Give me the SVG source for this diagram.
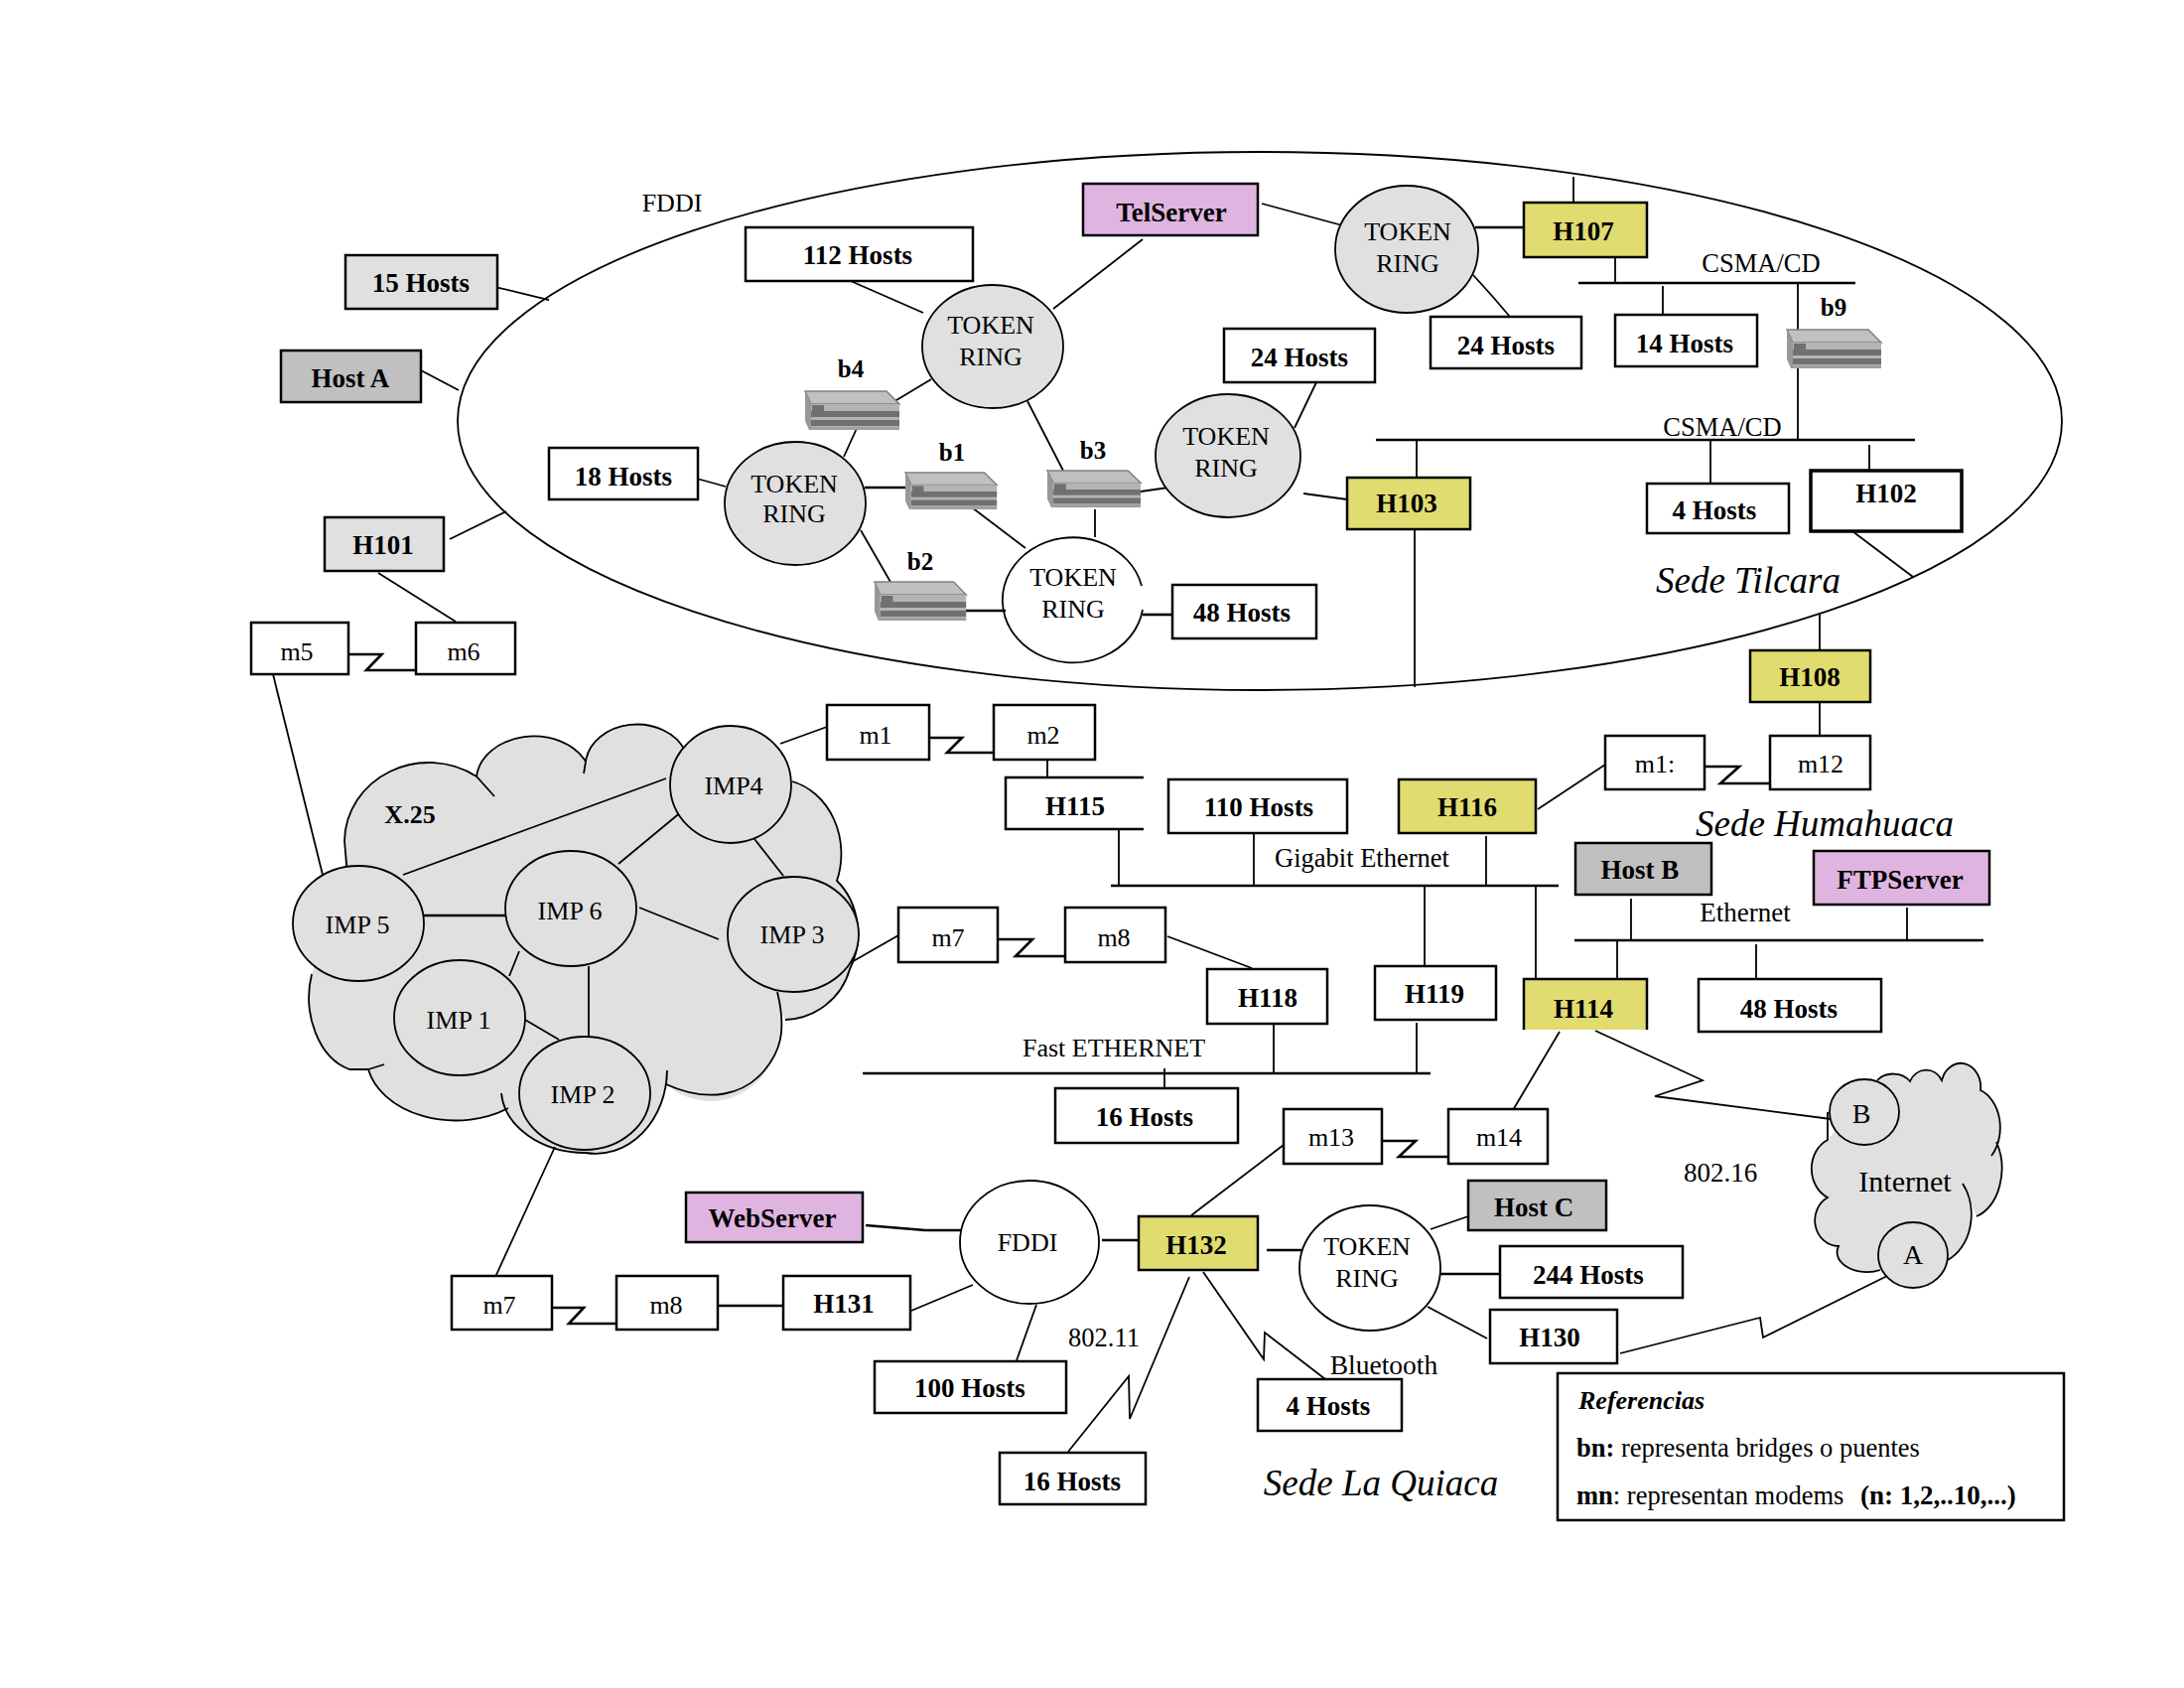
<svg xmlns="http://www.w3.org/2000/svg" width="2200" height="1700" viewBox="0 0 2200 1700">
<style>
text{font-family:"Liberation Serif","Times New Roman",serif;font-size:26px;fill:#000;text-anchor:middle}
.b{font-weight:bold;font-size:27px}
.s{font-size:25px}
.i{font-style:italic;font-size:37px}
.l{text-anchor:start}
.r{font-size:26.500px}
rect{stroke:#000;stroke-width:2.5;fill:#fff}
ellipse{stroke:#000;stroke-width:1.8;fill:#fff}
.w{fill:#fff}.g{fill:#e0e0e0}.d{fill:#c0c0c0}.y{fill:#e0dc70}.p{fill:#e0b4e0}
#connectors path{fill:none;stroke:#000;stroke-width:1.8}
#connectors .t{stroke-width:2.6}
.cloud{fill:#e0e0e0;stroke:none}
.edge{fill:none;stroke:#000;stroke-width:1.8}
</style>
<defs>
<g id="bridge">
<polygon points="0,0 82,0 95,13 6,13" fill="#c0c0c0" stroke="#808080" stroke-width="1.5"/>
<polygon points="0,0 6,13 6,39 4,39 0,30" fill="#989898"/>
<rect x="6" y="13" width="89" height="26" style="fill:#b4b4b4;stroke:none"/>
<rect x="6" y="20" width="89" height="6" style="fill:#707070;stroke:none"/>
<rect x="6" y="29" width="89" height="6" style="fill:#707070;stroke:none"/>
<rect x="7" y="14" width="12" height="6" style="fill:#707070;stroke:none"/>
<rect x="6" y="36" width="89" height="3" style="fill:#a0a0a0;stroke:none"/>
</g>
</defs>
<rect x="0" y="0" width="2200" height="1700" style="fill:#fff;stroke:none"/>
<g id="fddi-ring"><ellipse cx="1269" cy="424" rx="808" ry="271" style="fill:none"/></g>
<g id="cloud-x25">
<path class="cloud" d="M347 872L347 847A85 80 0 0 1 480 782A58 45 0 0 1 590 767A52 42 0 0 1 690 756L798 787A65 75 0 0 1 843 887A60 70 0 0 1 856 976A70 70 0 0 1 791 1027L787 1020A72 80 0 0 1 671 1092L672 1078A72 85 0 0 1 590 1161A85 65 0 0 1 505 1101L512 1116A90 65 0 0 1 371 1077L352 1077A55 75 0 0 1 314 981Z"/>
<path class="edge" d="M351 892L347 847A85 80 0 0 1 480 782L498 802M480 782A58 45 0 0 1 590 767L588 779M590 767A52 42 0 0 1 690 756M798 787A65 75 0 0 1 843 887A60 70 0 0 1 856 976A70 70 0 0 1 791 1027M783 999C793 1040 785 1060 770 1078C750 1102 715 1112 671 1092L672 1078A72 85 0 0 1 590 1161A85 65 0 0 1 505 1101M512 1116A90 65 0 0 1 371 1077L387 1072M371 1077L352 1077A55 75 0 0 1 314 981"/>
</g>
<g id="cloud-internet">
<path class="cloud" d="M1891 1088A20 16 0 0 1 1924 1089A18 20 0 0 1 1956 1088A20 24 0 0 1 1995 1098A30 40 0 0 1 2006 1164L2011 1150A35 50 0 0 1 1991 1225L1977 1192A40 50 0 0 1 1962 1269L1894 1279A30 20 0 0 1 1852 1255A24 26 0 0 1 1841 1206A28 32 0 0 1 1841 1148Z"/>
<path class="edge" d="M1891 1088A20 16 0 0 1 1924 1089A18 20 0 0 1 1956 1088A20 24 0 0 1 1995 1098A30 40 0 0 1 2006 1164M2011 1150A35 50 0 0 1 1991 1225M1977 1192A40 50 0 0 1 1962 1269M1894 1279A30 20 0 0 1 1852 1255A24 26 0 0 1 1841 1206A28 32 0 0 1 1841 1148L1841 1120"/>
</g>
<g id="connectors">
<path d="M499 289L553 302M424 373L462 393M453 543L510 515M381 577L459 626"/>
<path class="t" d="M351 659H384.500L369 675H419"/>
<path d="M275 679L325 881"/>
<path d="M850 280L930 315M1151 241L1061 311M1271 205L1352 227"/>
<path d="M938 382L898 406M865 427L850 460M702 482L731 490"/>
<path class="t" d="M871 491H913"/>
<path d="M975 508L1033 552M867 534L897 586"/>
<path class="t" d="M973 615H1013"/>
<path d="M1035 404L1071 474M1149 495L1177 491M1103 513V541"/>
<path class="t" d="M1151 619H1181"/>
<path class="t" d="M1486 229H1535"/>
<path d="M1484 277L1503 298L1521 319M1326 385L1304 431M1313 497L1357 503"/>
<path d="M1585 178V204M1627 259V285M1675 288V317M1811 285V443M1427 443V481M1723 443V487M1883 448V474M1866 535L1927 581M1425 523V692M1833 619V655M1833 707V745"/>
<path class="t" d="M1590 285H1869M1386 443H1929M1119 892H1570M1586 947H1998M869 1081H1441"/>
<path d="M406 881L671 784M687 817L623 870M760 845L789 882M644 914L724 946M523 958L513 983M593 973V1045M529 1027L563 1047M559 1155L499 1286M786 749L833 732M856 970L905 942"/>
<path class="t" d="M427 922H509"/>
<path class="t" d="M936 743H969L954 758H1001"/>
<path class="t" d="M1005 946H1040L1023 963H1073"/>
<path class="t" d="M1717 772H1752L1733 789H1783"/>
<path class="t" d="M1392 1149H1426L1409 1165H1459"/>
<path class="t" d="M556 1317H588L573 1333H621"/>
<path d="M1055 758V783M1127 835V892M1263 839V892M1497 842V892M1435 892V973M1547 892V986M1549 815L1617 770"/>
<path d="M1643 905V947M1921 914V947M1629 947V986M1769 951V990"/>
<path d="M1173 1076V1096M1283 1031V1081M1427 1030V1081M1176 943L1261 975"/>
<path d="M1571 1039L1524 1118M1607 1038L1715 1088L1667 1104L1852 1128"/>
<path d="M1293 1153L1200 1224M1632 1363L1773 1327L1776 1347L1903 1284"/>
<path d="M1441 1238L1479 1225M1438 1316L1498 1348"/>
<path class="t" d="M1451 1283H1511M1276 1259H1311M723 1315H789M1110 1249H1147"/>
<path d="M1212 1281L1273 1369L1274 1342L1335 1389"/>
<path class="t" d="M872 1234L932 1239H969"/>
<path d="M918 1320L980 1294M1044 1314L1023 1373M1198 1286L1138 1429L1137 1386L1076 1462"/>
</g>
<g id="n15hosts"><rect class="g" x="348" y="257" width="153" height="54"/><text class="b" x="424" y="294">15 Hosts</text></g>
<g id="hostA"><rect class="d" x="283" y="353" width="141" height="52"/><text class="b" x="353" y="390">Host A</text></g>
<g id="H101"><rect class="g" x="327" y="521" width="120" height="54"/><text class="b" x="386" y="558">H101</text></g>
<g id="m5"><rect x="253" y="627" width="98" height="52"/><text x="299" y="665">m5</text></g>
<g id="m6"><rect x="419" y="627" width="100" height="52"/><text x="467" y="665">m6</text></g>
<g id="h112"><rect x="751" y="229" width="229" height="54"/><text class="b" x="864" y="266">112 Hosts</text></g>
<g id="TelServer"><rect class="p" x="1091" y="185" width="176" height="52"/><text class="b" x="1180" y="223">TelServer</text></g>
<g id="h18"><rect x="553" y="451" width="150" height="52"/><text class="b" x="628" y="489">18 Hosts</text></g>
<g id="tr1"><ellipse class="g" cx="1000" cy="349" rx="71" ry="62"/><text x="998" y="336">TOKEN</text><text x="998" y="368">RING</text></g>
<g id="tr2"><ellipse class="g" cx="801" cy="507" rx="71" ry="62"/><text x="800" y="496">TOKEN</text><text x="800" y="526">RING</text></g>
<g id="tr3"><path class="edge" d="M1151 614A71 63 0 1 1 1150 590"/><text x="1081" y="590">TOKEN</text><text x="1081" y="622">RING</text></g>
<g id="tr4"><ellipse class="g" cx="1237" cy="459" rx="73" ry="62"/><text x="1235" y="448">TOKEN</text><text x="1235" y="480">RING</text></g>
<g id="tr5"><ellipse class="g" cx="1417" cy="251" rx="72" ry="64"/><text x="1418" y="242">TOKEN</text><text x="1418" y="274">RING</text></g>
<g id="b4"><use href="#bridge" x="811" y="394"/><text class="b s" x="857" y="380">b4</text></g>
<g id="b1"><use href="#bridge" transform="translate(912 476) scale(.97 .95)"/><text class="b s" x="959" y="464">b1</text></g>
<g id="b3"><use href="#bridge" transform="translate(1055 474) scale(.99 .95)"/><text class="b s" x="1101" y="462">b3</text></g>
<g id="b2"><use href="#bridge" transform="translate(881 586) scale(.97 1)"/><text class="b s" x="927" y="574">b2</text></g>
<g id="b9"><use href="#bridge" x="1800" y="332"/><text class="b s" x="1847" y="318">b9</text></g>
<g id="h24a"><rect x="1233" y="331" width="152" height="54"/><text class="b" x="1309" y="369">24 Hosts</text></g>
<g id="h24b"><rect x="1441" y="319" width="152" height="52"/><text class="b" x="1517" y="357">24 Hosts</text></g>
<g id="h14"><rect x="1627" y="317" width="143" height="52"/><text class="b" x="1697" y="355">14 Hosts</text></g>
<g id="H107"><rect class="y" x="1535" y="204" width="124" height="55"/><text class="b" x="1595" y="242">H107</text></g>
<g id="H103"><rect class="y" x="1357" y="481" width="124" height="52"/><text class="b" x="1417" y="516">H103</text></g>
<g id="h4a"><rect x="1659" y="487" width="143" height="50"/><text class="b" x="1727" y="523">4 Hosts</text></g>
<g id="H102"><rect x="1824" y="474" width="152" height="61" style="stroke-width:3.500"/><text class="b" x="1900" y="506">H102</text></g>
<g id="H108"><rect class="y" x="1763" y="655" width="121" height="52"/><text class="b" x="1823" y="691">H108</text></g>
<g id="h48a"><rect x="1181" y="589" width="145" height="54"/><text class="b" x="1251" y="626">48 Hosts</text></g>
<g id="imp4"><ellipse class="g" cx="736" cy="790" rx="61" ry="59"/><text x="739" y="800">IMP4</text></g>
<g id="imp5"><ellipse class="g" cx="361" cy="930" rx="66" ry="58"/><text x="360" y="940">IMP 5</text></g>
<g id="imp6"><ellipse class="g" cx="575" cy="915" rx="66" ry="58"/><text x="574" y="926">IMP 6</text></g>
<g id="imp3"><ellipse class="g" cx="799" cy="941" rx="66" ry="58"/><text x="798" y="950">IMP 3</text></g>
<g id="imp1"><ellipse class="g" cx="463" cy="1025" rx="66" ry="58"/><text x="462" y="1036">IMP 1</text></g>
<g id="imp2"><ellipse class="g" cx="589" cy="1101" rx="66" ry="57"/><text x="587" y="1111">IMP 2</text></g>
<text class="b" x="413" y="829" style="font-size:26px">X.25</text>
<g id="m1"><rect x="833" y="710" width="103" height="55"/><text x="882" y="749">m1</text></g>
<g id="m2"><rect x="1001" y="710" width="102" height="55"/><text x="1051" y="749">m2</text></g>
<g id="H115"><path d="M1152 783H1013V835H1152" fill="#fff" stroke="#000" stroke-width="2.500"/><text class="b" x="1083" y="821">H115</text></g>
<g id="h110"><rect x="1177" y="785" width="180" height="54"/><text class="b" x="1268" y="822">110 Hosts</text></g>
<g id="H116"><rect class="y" x="1409" y="785" width="138" height="54"/><text class="b" x="1478" y="822">H116</text></g>
<g id="m11"><rect x="1617" y="741" width="100" height="54"/><text x="1667" y="778">m1:</text></g>
<g id="m12"><rect x="1783" y="741" width="101" height="54"/><text x="1834" y="778">m12</text></g>
<g id="hostB"><rect class="d" x="1587" y="849" width="137" height="52"/><text class="b" x="1652" y="885">Host B</text></g>
<g id="FTPServer"><rect class="p" x="1827" y="857" width="177" height="54"/><text class="b" x="1914" y="895">FTPServer</text></g>
<g id="H119"><rect x="1385" y="973" width="122" height="54"/><text class="b" x="1445" y="1010">H119</text></g>
<g id="H118"><rect x="1216" y="976" width="121" height="55"/><text class="b" x="1277" y="1014">H118</text></g>
<g id="H114"><rect class="y" x="1535" y="986" width="124" height="51" style="stroke:none"/><path d="M1535 1037V986H1659V1037" fill="none" stroke="#000" stroke-width="2.500"/><text class="b" x="1595" y="1025">H114</text></g>
<g id="h48b"><rect x="1711" y="986" width="184" height="53"/><text class="b" x="1802" y="1025">48 Hosts</text></g>
<g id="h16a"><rect x="1063" y="1096" width="184" height="55"/><text class="b" x="1153" y="1134">16 Hosts</text></g>
<g id="m7a"><rect x="905" y="914" width="100" height="55"/><text x="955" y="953">m7</text></g>
<g id="m8a"><rect x="1073" y="914" width="101" height="55"/><text x="1122" y="953">m8</text></g>
<g id="m13"><rect x="1293" y="1117" width="99" height="55"/><text x="1341" y="1154">m13</text></g>
<g id="m14"><rect x="1459" y="1117" width="100" height="55"/><text x="1510" y="1154">m14</text></g>
<g id="nodeB"><ellipse class="g" cx="1878" cy="1120" rx="35" ry="33"/><text x="1875" y="1131" style="font-size:28px">B</text></g>
<g id="nodeA"><ellipse class="g" cx="1927" cy="1264" rx="35" ry="33"/><text x="1927" y="1273" style="font-size:28px">A</text></g>
<g id="H130"><rect x="1501" y="1319" width="128" height="54"/><text class="b" x="1561" y="1356">H130</text></g>
<g id="tr6"><ellipse cx="1380" cy="1277" rx="71" ry="63"/><text x="1377" y="1264">TOKEN</text><text x="1377" y="1296">RING</text></g>
<g id="hostC"><rect class="d" x="1479" y="1189" width="139" height="50"/><text class="b" x="1545" y="1225">Host C</text></g>
<g id="h244"><rect x="1511" y="1255" width="184" height="52"/><text class="b" x="1600" y="1293">244 Hosts</text></g>
<g id="H132"><rect class="y" x="1147" y="1225" width="120" height="54"/><text class="b" x="1205" y="1263">H132</text></g>
<g id="h4b"><rect x="1267" y="1389" width="145" height="52"/><text class="b" x="1338" y="1425">4 Hosts</text></g>
<g id="WebServer"><rect class="p" x="691" y="1201" width="178" height="50"/><text class="b" x="778" y="1236">WebServer</text></g>
<g id="fddi2"><ellipse cx="1037" cy="1251" rx="70" ry="62"/><text x="1035" y="1260">FDDI</text></g>
<g id="m7b"><rect x="455" y="1285" width="101" height="54"/><text x="503" y="1323">m7</text></g>
<g id="m8b"><rect x="621" y="1285" width="102" height="54"/><text x="671" y="1323">m8</text></g>
<g id="H131"><rect x="789" y="1285" width="128" height="54"/><text class="b" x="850" y="1322">H131</text></g>
<g id="h100"><rect x="881" y="1371" width="193" height="52"/><text class="b" x="977" y="1407">100 Hosts</text></g>
<g id="h16b"><rect x="1007" y="1463" width="147" height="52"/><text class="b" x="1080" y="1501">16 Hosts</text></g>
<g id="referencias"><rect x="1569" y="1383" width="510" height="148"/>
<text class="b l" x="1590" y="1419" style="font-style:italic;font-size:26px">Referencias</text>
<text class="l r" x="1588" y="1467"><tspan class="b r">bn:</tspan> representa bridges o puentes</text>
<text class="l r" x="1588" y="1515"><tspan class="b r">mn</tspan>: representan modems</text>
<text class="b l" x="1874" y="1515">(n: 1,2,..10,...)</text>
</g>
<g id="labels">
<text x="677" y="213">FDDI</text>
<text class="r" x="1774" y="274">CSMA/CD</text>
<text class="r" x="1735" y="439">CSMA/CD</text>
<text class="i" x="1761" y="597">Sede Tilcara</text>
<text class="i" x="1838" y="842">Sede Humahuaca</text>
<text class="i" x="1391" y="1506">Sede La Quiaca</text>
<text class="r" x="1372" y="873">Gigabit Ethernet</text>
<text x="1758" y="928" style="font-size:27px">Ethernet</text>
<text x="1122" y="1064">Fast ETHERNET</text>
<text x="1733" y="1190" style="font-size:27px">802.16</text>
<text class="r" x="1112" y="1356">802.11</text>
<text x="1394" y="1384" style="font-size:27.500px">Bluetooth</text>
<text x="1919" y="1200" style="font-size:30px">Internet</text>
</g>
</svg>
